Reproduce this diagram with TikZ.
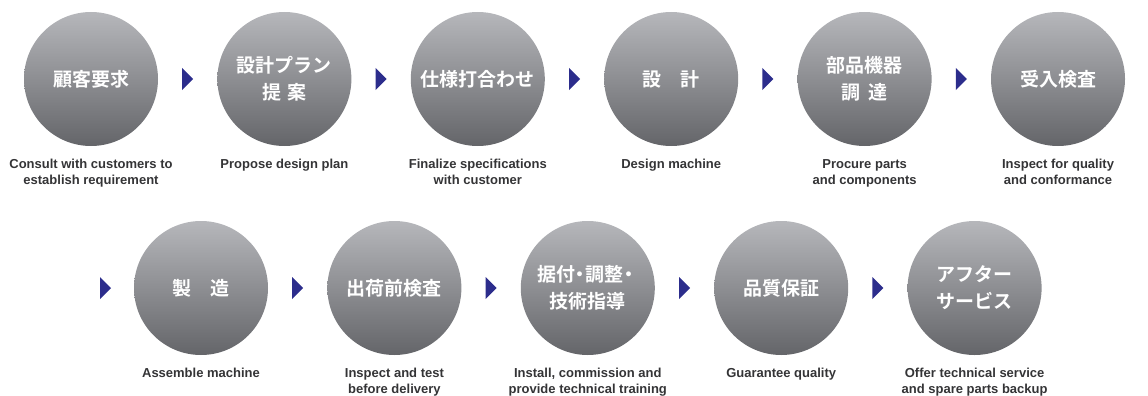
\documentclass[tikz,border=0pt]{standalone}
\usepackage{fontspec}
\setmainfont{Liberation Sans}
\newfontfamily\jpfont{Noto Sans CJK JP}[BoldFont={* Bold}]
\usetikzlibrary{positioning,calc}
\definecolor{circtop}{RGB}{182,183,187}
\definecolor{circbot}{RGB}{100,101,105}
\definecolor{markblue}{RGB}{44,45,140}
\definecolor{capgray}{RGB}{52,52,54}
\newcommand{\jpdot}{\hspace{-0.22em}・\hspace{-0.22em}}
\tikzset{
	stage/.style={circle,minimum size=134pt,inner sep=0pt,top color=circtop,bottom color=circbot,
		text=white,align=center,font=\jpfont\bfseries\fontsize{19}{27}\selectfont},
	capt/.style={inner sep=0pt,anchor=north,align=center,text=capgray,
		font=\bfseries\fontsize{13}{16}\selectfont},
	pics/marker/.style={code={\fill[markblue] (-5.5,-11) -- (5.5,0) -- (-5.5,11) -- cycle;}}
}

\begin{document}
\begin{tikzpicture}[x=1pt,y=-1pt]
	 		\useasboundingbox (0,0) rectangle (1148,396);
	 		
	 		\node[stage] (c1) at (91,79) {顧客要求};
	 		\node[stage,right=59pt of c1] (c2) {設計プラン\\提\hspace{0.35em}案};
	 		\node[stage,right=59pt of c2] (c3) {仕様打合わせ};
	 		\node[stage,right=59pt of c3] (c4) {設　計};
	 		\node[stage,right=59pt of c4] (c5) {部品機器\\調\hspace{0.4em}達};
	 		\node[stage,right=59pt of c5] (c6) {受入検査};
	 		
	 		\node[stage] (c7) at (201,288) {製　造};
	 		\node[stage,right=59pt of c7] (c8) {出荷前検査};
	 		\node[stage,right=59pt of c8] (c9) {据付\jpdot 調整\jpdot\\技術指導};
	 		\node[stage,right=59pt of c9] (c10) {品質保証};
	 		\node[stage,right=59pt of c10] (c11) {アフター\\サービス};
	 		
	 		\node[capt,below=13pt of c1] (l1) {Consult with customers to\\establish requirement};
	 		\node[capt,below=13pt of c2] (l2) {Propose design plan};
	 		\node[capt,below=13pt of c3] (l3) {Finalize specifications\\with customer};
	 		\node[capt,below=13pt of c4] (l4) {Design machine};
	 		\node[capt,below=13pt of c5] (l5) {Procure parts\\and components};
	 		\node[capt,below=13pt of c6] (l6) {Inspect for quality\\and conformance};
	 		\node[capt,below=13pt of c7] (l7) {Assemble machine};
	 		\node[capt,below=13pt of c8] (l8) {Inspect and test\\before delivery};
	 		\node[capt,below=13pt of c9] (l9) {Install, commission and\\provide technical training};
	 		\node[capt,below=13pt of c10] (l10) {Guarantee quality};
	 		\node[capt,below=13pt of c11] (l11) {Offer technical service\\and spare parts backup};
	 		
	 		\pic at ($(c1)!0.5!(c2)$) {marker};
	 		\pic at ($(c2)!0.5!(c3)$) {marker};
	 		\pic at ($(c3)!0.5!(c4)$) {marker};
	 		\pic at ($(c4)!0.5!(c5)$) {marker};
	 		\pic at ($(c5)!0.5!(c6)$) {marker};
	 		\pic at ($(c6)+(95.5,0)$) {marker};
	 		\pic at ($(c7)+(-95.5,0)$) {marker};
	 		\pic at ($(c7)!0.5!(c8)$) {marker};
	 		\pic at ($(c8)!0.5!(c9)$) {marker};
	 		\pic at ($(c9)!0.5!(c10)$) {marker};
	 		\pic at ($(c10)!0.5!(c11)$) {marker};
	 	\end{tikzpicture}
\end{document}
